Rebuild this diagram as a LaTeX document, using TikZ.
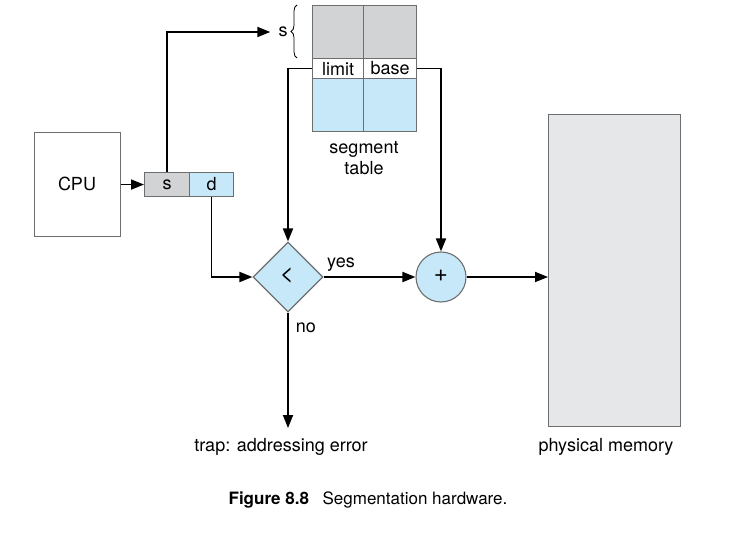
\documentclass[tikz,border=0pt]{standalone}
\usepackage{fontspec}
\setmainfont{TeX Gyre Heros}
\usetikzlibrary{arrows.meta,shapes.geometric,decorations.pathreplacing}
\definecolor{cellgray}{HTML}{D1D3D4}
\definecolor{cellblue}{HTML}{C7E8F8}
\definecolor{memgray}{HTML}{E6E7E8}
\definecolor{edgegray}{HTML}{6D6E70}
\begin{document}
\begin{tikzpicture}[x=1pt,y=-1pt,
  lbl/.style={font=\fontsize{18}{21}\selectfont, inner sep=0pt},
  sym/.style={font=\fontsize{24}{26}\selectfont, inner sep=0pt},
  unit/.style={draw=edgegray, line width=1.1pt, inner sep=0pt, anchor=north west},
  flow/.style={line width=1.8pt, -{Triangle[length=13pt,width=10pt]}},
  wire/.style={line width=1.8pt}]
  \useasboundingbox (0,0) rectangle (734,537);

  % processor and logical address
  \node[unit, minimum width=86pt, minimum height=104pt] (cpu) at (34,132) {};
  \node[lbl] (cputxt) at (77,184) {CPU};
  \node[unit, fill=cellgray, minimum width=45pt, minimum height=24pt] (sreg) at (144,172) {};
  \node[unit, fill=cellblue, minimum width=44pt, minimum height=24pt] (dreg) at (189,172) {};
  \node[lbl] at (sreg.center) {s};
  \node[lbl] at (dreg.center) {d};

  % segment table
  \node[unit, fill=cellgray, minimum width=51pt, minimum height=53pt] (g1) at (312,5) {};
  \node[unit, fill=cellgray, minimum width=53pt, minimum height=53pt] (g2) at (363,5) {};
  \node[unit, fill=white, minimum width=51pt, minimum height=20pt] (limit) at (312,58) {};
  \node[unit, fill=white, minimum width=53pt, minimum height=20pt] (base) at (363,58) {};
  \node[unit, fill=cellblue, minimum width=51pt, minimum height=53pt] (b1) at (312,78) {};
  \node[unit, fill=cellblue, minimum width=53pt, minimum height=53pt] (b2) at (363,78) {};
  \node[lbl] at (limit.center) {limit};
  \node[lbl] at (base.center) {base};
  \node[lbl, align=center, font=\fontsize{18}{21}\selectfont] (segtab) at (364,158) {segment\\table};

  % index label and brace
  \node[lbl] (sidx) at (283,32) {s};
  \draw[line width=0.8pt, decorate, decoration={brace, amplitude=6pt, mirror}] (297,5) -- (297,58);

  % comparator, adder, memory
  \node[draw=edgegray, line width=1.1pt, fill=cellblue, shape=diamond, minimum width=70pt, minimum height=70pt, inner sep=0pt] (cmp) at (288,277) {};
  \node[sym] at (287,276) {<};
  \node[draw=edgegray, line width=1.1pt, fill=cellblue, circle, minimum size=50pt, inner sep=0pt] (add) at (441,277) {};
  \node[sym] at (441,276) {+};
  \node[unit, fill=memgray, minimum width=132pt, minimum height=312pt] (mem) at (548,114) {};
  \node[lbl] (memtxt) at (606,447) {physical memory};
  \node[lbl] (trap) at (281,447) {trap: addressing error};
  \coordinate (trapend) at (288,428);

  % connectors
  \draw[flow, shorten >=8pt] (sreg.north) |- (sidx.west);
  \draw[flow] (cpu.east) -- (sreg.west);
  \draw[flow] (limit.west) -| (cmp.north);
  \draw[flow] (base.east) -| (add.north);
  \draw[flow] (dreg.south) |- (cmp.west);
  \draw[flow] (cmp.east) -- node[lbl, above=5pt, pos=0.19] {yes} (add.west);
  \draw[flow] (add.east) -- (mem.west |- add.east);
  \draw[flow] (cmp.south) -- node[lbl, right=7pt, pos=0.13] {no} (trapend);

  % caption
  \node[font=\fontsize{17}{20}\selectfont, inner sep=0pt] (cap) at (368,500) {\textbf{Figure 8.8}\hspace{0.8em}Segmentation hardware.};
\end{tikzpicture}
\end{document}
